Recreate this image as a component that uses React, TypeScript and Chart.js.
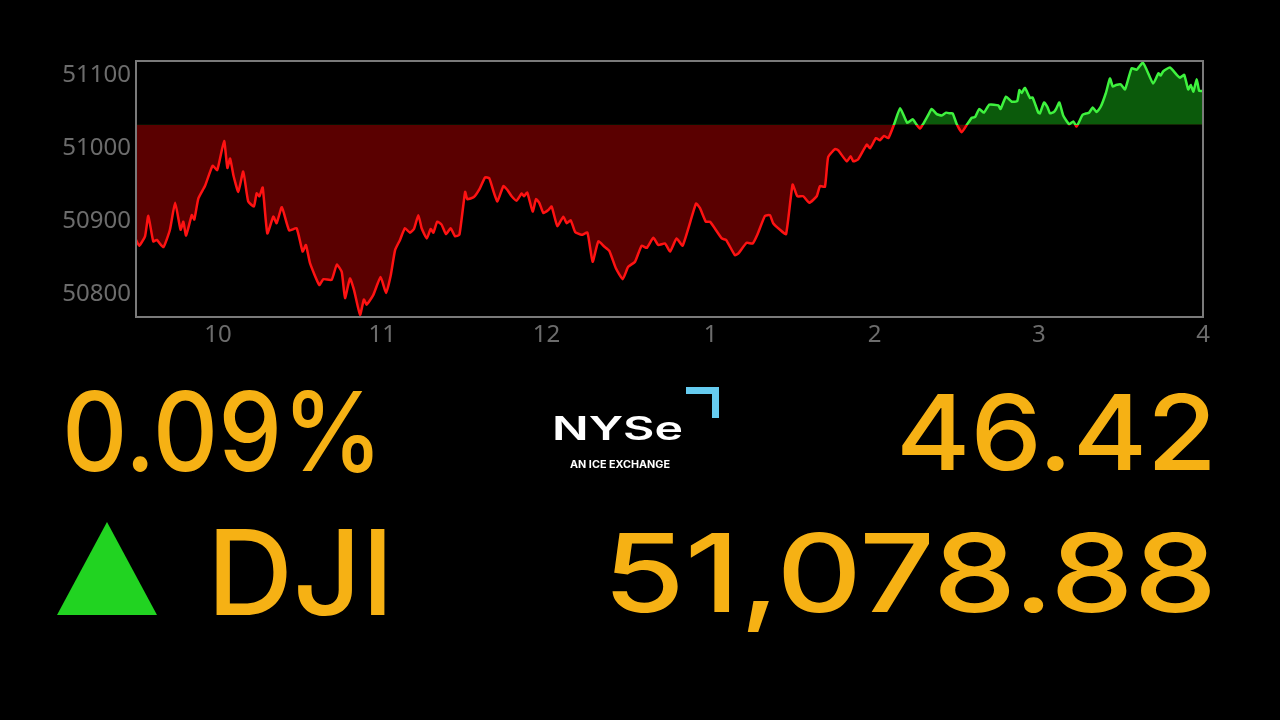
import React, { useEffect, useRef } from "react";
import { Chart, registerables } from "chart.js";

Chart.register(...registerables);

// ---- data (minutes after 9:30 open, index level) ----
const MINUTES = [
  0, 1.2, 3.3, 4.5, 6.3, 7.6, 10.0, 12.4, 14.3, 16.3, 17.3, 18.3, 20.4, 21.3, 22.8, 25.2, 28.0, 29.7,
  32.2, 33.4, 34.4, 35.6, 37.4, 39.2, 41.0, 43.1, 44.1, 45.1, 46.3, 48.0, 50.2, 51.4, 53.3, 56.0, 58.7,
  60.9, 62.1, 63.6, 67.0, 68.5, 71.5, 73.4, 75.2, 76.4, 78.2, 79.7, 81.9, 83.3, 84.3, 86.7, 89.4, 91.4,
  93.1, 94.7, 96.5, 98.3, 100.1, 101.6, 103.2, 104.4, 106.3, 107.7, 108.7, 110.1, 111.7, 113.3, 115.0,
  116.6, 118.2, 120.3, 121.1, 123.5, 125.7, 127.6, 129.1, 130.9, 132.1, 134.3, 135.7, 137.3, 139.1,
  141.0, 141.8, 143.0, 145.0, 146.2, 147.4, 148.9, 150.7, 151.9, 154.0, 156.2, 157.4, 158.9, 160.5,
  162.9, 165.0, 166.9, 169.0, 171.1, 173.0, 175.4, 177.9, 179.9, 182.4, 184.8, 186.7, 189.1, 190.9,
  193.4, 195.2, 197.6, 199.8, 204.7, 206.1, 208.3, 209.8, 214.1, 215.7, 218.9, 220.1, 223.2, 225.4,
  227.1, 229.9, 231.7, 232.9, 235.4, 237.6, 240.0, 241.7, 243.9, 246.1, 248.8, 250.0, 251.8, 253.0,
  255.5, 256.7, 259.8, 261.2, 262.2, 264.0, 267.1, 268.3, 270.5, 271.9, 273.4, 275.0, 277.1, 279.3,
  281.9, 283.9, 285.4, 286.6, 287.8, 289.6, 290.8, 292.7, 294.5, 296.1, 297.5, 298.5, 300.0, 301.8,
  303.8, 305.5, 306.7, 308.2, 309.9, 311.9, 315.2, 316.0, 318.0, 320.1, 322.1, 322.9, 323.7, 324.9,
  326.8, 327.7, 329.8, 330.4, 331.9, 333.1, 334.1, 335.5, 336.3, 337.5, 338.9, 341.1, 342.6, 343.8,
  346.0, 347.5, 348.4, 349.7, 351.1, 352.6, 354.5, 356.0, 357.0, 358.2, 359.9, 361.5, 363.9, 365.8,
  368.0, 369.4, 371.8, 373.7, 374.5, 375.5, 377.9, 380.4, 381.6, 383.1, 384.6, 385.5, 386.5, 387.7,
  388.6, 390,
];

const VALUES = [
  50874, 50866, 50879, 50907, 50872, 50874, 50864, 50888, 50925, 50888, 50899, 50880, 50908, 50902, 50931, 50948, 50976, 50970,
  51010, 50973, 50986, 50963, 50940, 50968, 50927, 50920, 50938, 50934, 50946, 50883, 50906, 50897, 50919, 50887, 50890,
  50858, 50867, 50842, 50812, 50820, 50819, 50840, 50830, 50794, 50821, 50805, 50771, 50792, 50785, 50798, 50823, 50801,
  50825, 50860, 50874, 50890, 50884, 50889, 50908, 50890, 50876, 50889, 50884, 50899, 50895, 50882, 50890,
  50879, 50881, 50940, 50930, 50933, 50945, 50960, 50959, 50938, 50927, 50948, 50943, 50934, 50928,
  50938, 50934, 50939, 50913, 50930, 50925, 50911, 50915, 50920, 50893, 50906, 50897, 50901, 50885,
  50881, 50884, 50844, 50872, 50865, 50859, 50835, 50820, 50837, 50844, 50866, 50863, 50877, 50867,
  50869, 50858, 50876, 50866, 50924, 50918, 50899, 50899, 50876, 50874, 50853, 50855, 50870, 50869,
  50881, 50907, 50908, 50897, 50888, 50882, 50950, 50934, 50934, 50925, 50934, 50948, 50947, 50988,
  50999, 50997, 50982, 50989, 50982, 50985, 51005, 51000, 51014, 51011, 51017, 51014, 51033, 51055,
  51035, 51040, 51032, 51027, 51034, 51046, 51054, 51047, 51045, 51049, 51048, 51048, 51033, 51022,
  51033, 51042, 51043, 51054, 51049, 51060, 51059, 51054, 51071, 51064, 51065, 51080, 51076, 51083,
  51069, 51070, 51049, 51048, 51063, 51057, 51048, 51050, 51054, 51063, 51045, 51033, 51037, 51030,
  51046, 51048, 51049, 51056, 51050, 51057, 51076, 51096, 51085, 51087, 51088, 51081, 51110, 51108,
  51118, 51108, 51089, 51103, 51100, 51106, 51111, 51101, 51097, 51101, 51081, 51087, 51078, 51095,
  51079, 51078.88,
];

const PREV_CLOSE = 51032.46;
const X_TICK_MINUTES = [30, 90, 150, 210, 270, 330, 390];
const X_TICK_LABELS = ["10", "11", "12", "1", "2", "3", "4"];
const Y_TICKS = [50800, 50900, 51000, 51100];
const Y_MIN = 50768;
const Y_MAX = 51120;

const PCT_TEXT = "0.09%";
const CHANGE_TEXT = "46.42";
const SYMBOL_TEXT = "DJI";
const LEVEL_TEXT = "51,078.88";

const GOLD = "#f6b114";
const RED_LINE = "#ff1212";
const RED_FILL = "#5a0000";
const GREEN_LINE = "#3ef23e";
const GREEN_FILL = "#0b5a0b";
const AXIS_GRAY = "#6c6c6c";

const frame = {
  id: "frame",
  afterDraw(chart: any) {
    const { ctx, chartArea } = chart;
    ctx.save();
    ctx.strokeStyle = "#7a7a7a";
    ctx.lineWidth = 2;
    ctx.strokeRect(chartArea.left, chartArea.top, chartArea.right - chartArea.left, chartArea.bottom - chartArea.top);
    ctx.restore();
  },
};

function DowChart() {
  const ref = useRef<HTMLCanvasElement>(null);
  useEffect(() => {
    if (!ref.current) return;
    const lineColor = (c: any) => {
      const chart = c.chart;
      const { chartArea, scales } = chart;
      if (!chartArea) return RED_LINE;
      const yb = scales.y.getPixelForValue(PREV_CLOSE);
      const f = Math.min(1, Math.max(0, (yb - chartArea.top) / (chartArea.bottom - chartArea.top)));
      const g = chart.ctx.createLinearGradient(0, chartArea.top, 0, chartArea.bottom);
      g.addColorStop(0, GREEN_LINE);
      g.addColorStop(f, GREEN_LINE);
      g.addColorStop(f, RED_LINE);
      g.addColorStop(1, RED_LINE);
      return g;
    };
    const chart = new Chart(ref.current, {
      type: "line",
      data: {
        datasets: [
          {
            data: MINUTES.map((m, i) => ({ x: m, y: VALUES[i] })),
            borderColor: lineColor,
            borderWidth: 2.5,
            pointRadius: 0,
            tension: 0.15,
            fill: { target: { value: PREV_CLOSE }, above: GREEN_FILL, below: RED_FILL },
          },
        ],
      },
      options: {
        animation: false,
        responsive: false,
        devicePixelRatio: 1,
        layout: { padding: { top: 61, right: 77, left: 0, bottom: 0 } },
        plugins: { legend: { display: false }, tooltip: { enabled: false } },
        scales: {
          x: {
            type: "linear",
            min: 0,
            max: 390,
            grid: { display: false, drawTicks: false },
            border: { display: false },
            afterBuildTicks: (s: any) => {
              s.ticks = X_TICK_MINUTES.map((v) => ({ value: v }));
            },
            afterFit: (s: any) => {
              s.height = 43;
            },
            ticks: {
              color: AXIS_GRAY,
              font: { family: "'Noto Sans'", size: 24 },
              padding: 4,
              maxRotation: 0,
              autoSkip: false,
              callback: (v: any) => {
                const i = X_TICK_MINUTES.indexOf(Number(v));
                return i >= 0 ? X_TICK_LABELS[i] : "";
              },
            },
          },
          y: {
            min: Y_MIN,
            max: Y_MAX,
            grid: { display: false, drawTicks: false },
            border: { display: false },
            afterBuildTicks: (s: any) => {
              s.ticks = Y_TICKS.map((v) => ({ value: v }));
            },
            afterFit: (s: any) => {
              s.width = 136;
            },
            ticks: {
              color: AXIS_GRAY,
              font: { family: "'Noto Sans'", size: 24 },
              padding: 5,
              callback: (v: any) => String(v),
            },
          },
        },
      },
      plugins: [frame],
    });
    return () => chart.destroy();
  }, []);
  return (
    <canvas
      ref={ref}
      width={1280}
      height={360}
      style={{ position: "absolute", left: 0, top: 0, width: 1280, height: 360 }}
    />
  );
}

export default function App() {
  const big = { fontFamily: "Inter, 'Noto Sans', sans-serif", fontWeight: 500, fill: GOLD } as any;
  return (
    <div style={{ position: "fixed", left: 0, top: 0, width: 1280, height: 720, background: "#000", overflow: "hidden" }}>
      <DowChart />
      <svg width={1280} height={720} style={{ position: "absolute", left: 0, top: 0 }}>
        <text x={62} y={471} fontSize={110} textLength={321} lengthAdjust="spacingAndGlyphs" style={big}>
          {PCT_TEXT}
        </text>
        <text x={896} y={470} fontSize={105} textLength={321} lengthAdjust="spacingAndGlyphs" style={big}>
          {CHANGE_TEXT}
        </text>
        <polygon points="107,522 57,615 157,615" fill="#21d321" />
        <text x={207} y={615} fontSize={118} textLength={187} lengthAdjust="spacingAndGlyphs" style={big}>
          {SYMBOL_TEXT}
        </text>
        <text x={603} y={612} fontSize={109} textLength={614} lengthAdjust="spacingAndGlyphs" style={big}>
          {LEVEL_TEXT}
        </text>
        <text
          x={552}
          y={440}
          fontSize={32}
          textLength={131}
          lengthAdjust="spacingAndGlyphs"
          style={{ fontFamily: "Inter, sans-serif", fontWeight: 600, fill: "#ffffff" }}
        >
          NYSe
        </text>
        <text
          x={570}
          y={468}
          fontSize={10}
          textLength={100}
          lengthAdjust="spacingAndGlyphs"
          style={{ fontFamily: "Inter, sans-serif", fontWeight: 700, fill: "#ffffff" }}
        >
          AN ICE EXCHANGE
        </text>
        <rect x={686} y={387} width={33} height={7} fill="#66ccf0" />
        <rect x={712} y={387} width={7} height={31} fill="#66ccf0" />
      </svg>
    </div>
  );
}
